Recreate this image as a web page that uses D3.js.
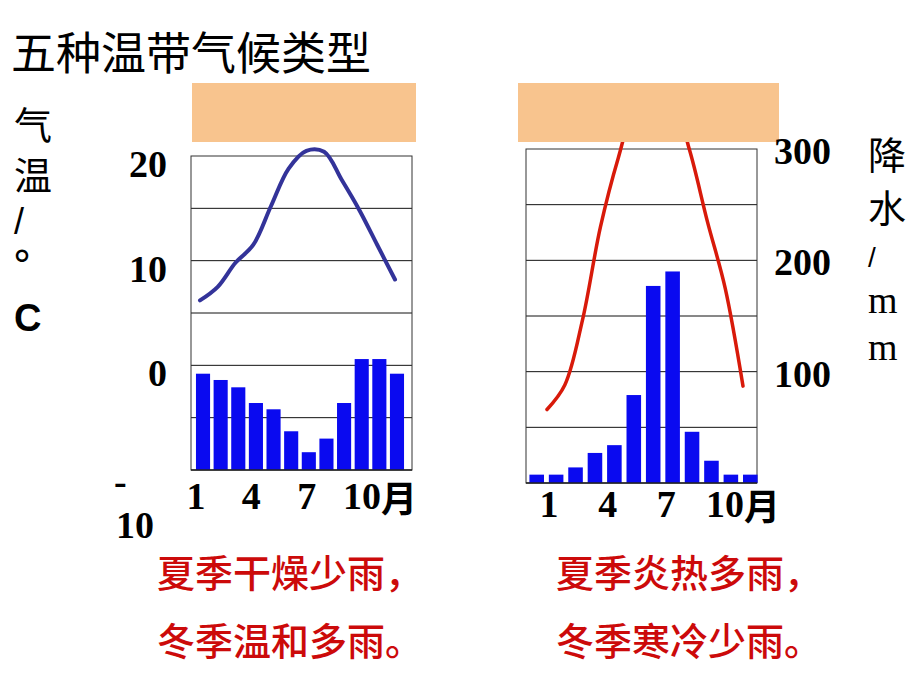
<!DOCTYPE html>
<html><head><meta charset="utf-8">
<script src="https://cdn.jsdelivr.net/npm/d3@7"></script>
<style>html,body{margin:0;padding:0;background:#fff;}</style>
</head><body>
<script>
// ---- data ----
const months = [1,2,3,4,5,6,7,8,9,10,11,12];
const monthTicks = ["1","4","7","10"];
const leftPrecip = [92,86,79,64,58,37,17,30,64,106,106,92];
const leftTemp = [6.2,7.5,9.8,11.5,15.2,18.8,20.5,20.4,17.7,14.8,11.5,8.2];
const rightPrecip = [7.5,7.5,14,27,34,79,177,190,46,20,7.5,7.5];
const rightTemp = [-3.4,-1.2,4.7,13.0,19.2,24,25.2,24.6,19.9,13.5,7.5,-1.3];
const tempTicks = [20,10,0];
const precipTicks = [300,200,100];
const title = "五种温带气候类型";
const leftNote = ["夏季干燥少雨，","冬季温和多雨。"];
const rightNote = ["夏季炎热多雨，","冬季寒冷少雨。"];
const tempUnit = ["气","温","/","°","C"];
const precipUnit = ["降","水","/","m","m"];

const W=920,H=690;
const svg=d3.select("body").append("svg").attr("width",W).attr("height",H);
svg.append("rect").attr("width",W).attr("height",H).attr("fill","#fff");

const numFont="'Liberation Serif','Times New Roman',serif";
const cjk="'Noto Sans CJK SC',sans-serif";

function chart(o){
  const g=svg.append("g");
  const yP=d3.scaleLinear().domain([0,300]).range([o.bottom,o.top]);
  const yT=d3.scaleLinear().domain([-10,20]).range([o.bottom,o.top]);
  const xB=d3.scaleBand().domain(months).range(o.barRange).paddingInner(o.pad).paddingOuter(o.pad/2);
  const xL=d3.scalePoint().domain(months).range(o.lineRange);
  const grid=o.gridOn==="temp"? [-5,0,5,10,15].map(yT) : [50,100,150,200,250].map(yP);
  g.selectAll(".grid").data(grid).enter().append("line")
    .attr("x1",o.left).attr("x2",o.right).attr("y1",d=>d).attr("y2",d=>d)
    .attr("stroke","#111").attr("stroke-width",1);
  g.append("rect").attr("x",o.left).attr("y",o.top).attr("width",o.right-o.left).attr("height",o.bottom-o.top)
    .attr("fill","none").attr("stroke","#333").attr("stroke-width",1);
  g.selectAll(".bar").data(o.precip).enter().append("rect")
    .attr("x",(d,i)=>xB(months[i])).attr("width",xB.bandwidth())
    .attr("y",d=>yP(d)).attr("height",d=>yP(0)-yP(d)).attr("fill","#0a0af0");
  g.append("line").attr("x1",o.left).attr("x2",o.right).attr("y1",o.bottom).attr("y2",o.bottom)
    .attr("stroke","#222").attr("stroke-width",1.5);
  const line=d3.line().x((d,i)=>xL(months[i])).y(d=>yT(d)).curve(d3.curveCatmullRom.alpha(0.5));
  g.append("path").datum(o.temp).attr("d",line).attr("fill","none")
    .attr("stroke",o.lineColor).attr("stroke-width",o.lineWidth).attr("stroke-linecap","round");
  g.append("rect").attr("x",o.box[0]).attr("y",83).attr("width",o.box[1]-o.box[0]).attr("height",59).attr("fill","#f8c48e");
  const xM=d3.scaleLinear().domain([1,10]).range(o.monthRange);
  monthTicks.forEach(m=>{
    const x=xM(+m);
    g.append("text").attr("x",x).attr("y",o.monthY).attr("text-anchor","middle").attr("dominant-baseline","central")
      .attr("font-family",numFont).attr("font-weight","bold").attr("font-size",38).text(m);
    if(m==="10") g.append("text").attr("x",x+19).attr("y",o.monthY).attr("dominant-baseline","central")
      .attr("font-family",cjk).attr("font-weight","bold").attr("font-size",36).text("月");
  });
  o.note.forEach((t,i)=>{
    g.append("text").attr("x",o.noteX).attr("y",570+i*68).attr("dominant-baseline","central")
      .attr("font-family",cjk).attr("font-weight",500).attr("font-size",38).attr("fill","#cc0a0a").text(t);
  });
  return {yP,yT};
}

const L=chart({left:191,right:412,top:156,bottom:470,barRange:[194.2,405.8],pad:0.2,lineRange:[200,395],
  precip:leftPrecip,temp:leftTemp,lineColor:"#333399",lineWidth:4,gridOn:"temp",box:[192,416],
  monthRange:[196,362],monthY:496,note:leftNote,noteX:157});
const R=chart({left:526,right:757,top:149,bottom:483,barRange:[527,760],pad:0.25,lineRange:[547,743],
  precip:rightPrecip,temp:rightTemp,lineColor:"#d81a0a",lineWidth:3.5,gridOn:"precip",box:[518,779],
  monthRange:[549,725],monthY:504,note:rightNote,noteX:556});

svg.selectAll(".tt").data(tempTicks).enter().append("text")
  .attr("x",167).attr("y",d=>L.yT(d)+8).attr("text-anchor","end").attr("dominant-baseline","central")
  .attr("font-family",numFont).attr("font-weight","bold").attr("font-size",38).text(d=>d);
const neg=svg.append("text").attr("font-family",numFont).attr("font-weight","bold").attr("font-size",38);
neg.append("tspan").attr("x",114).attr("y",L.yT(-10)+24).text("-");
neg.append("tspan").attr("x",116).attr("y",L.yT(-10)+68).text("10");

svg.selectAll(".pt").data(precipTicks).enter().append("text")
  .attr("x",774).attr("y",d=>R.yP(d)+2).attr("dominant-baseline","central")
  .attr("font-family",numFont).attr("font-weight","bold").attr("font-size",38).text(d=>d);

svg.append("text").attr("x",11).attr("y",50).attr("dominant-baseline","central")
  .attr("font-family",cjk).attr("font-weight",400).attr("font-size",45).text(title);

const tu=[{y:122,f:cjk,s:38,w:400},{y:172,f:cjk,s:38,w:400},{y:221,f:"'Liberation Sans',Arial,sans-serif",s:36,w:400},
  {y:258,f:"'DejaVu Sans',sans-serif",s:40,w:400,deg:true},{y:318,f:"'Liberation Sans',Arial,sans-serif",s:38,w:700}];
tempUnit.forEach((t,i)=>{
  const c=tu[i];
  const el=svg.append("text").attr("x",i===3?12:14).attr("font-family",c.f).attr("font-size",c.s).attr("font-weight",c.w).text(t);
  if(c.deg) el.attr("y",c.y+22); else el.attr("y",c.y).attr("dominant-baseline","central");
});
const pu=[{y:152,f:cjk,s:38},{y:205,f:cjk,s:38},{y:257,f:"'Liberation Sans',Arial,sans-serif",s:28},
  {y:313,f:numFont,s:38,base:true},{y:360,f:numFont,s:38,base:true}];
precipUnit.forEach((t,i)=>{
  const c=pu[i];
  const el=svg.append("text").attr("x",868).attr("font-family",c.f).attr("font-size",c.s).text(t);
  if(c.base) el.attr("y",c.y); else el.attr("y",c.y).attr("dominant-baseline","central");
});
</script>
</body></html>
